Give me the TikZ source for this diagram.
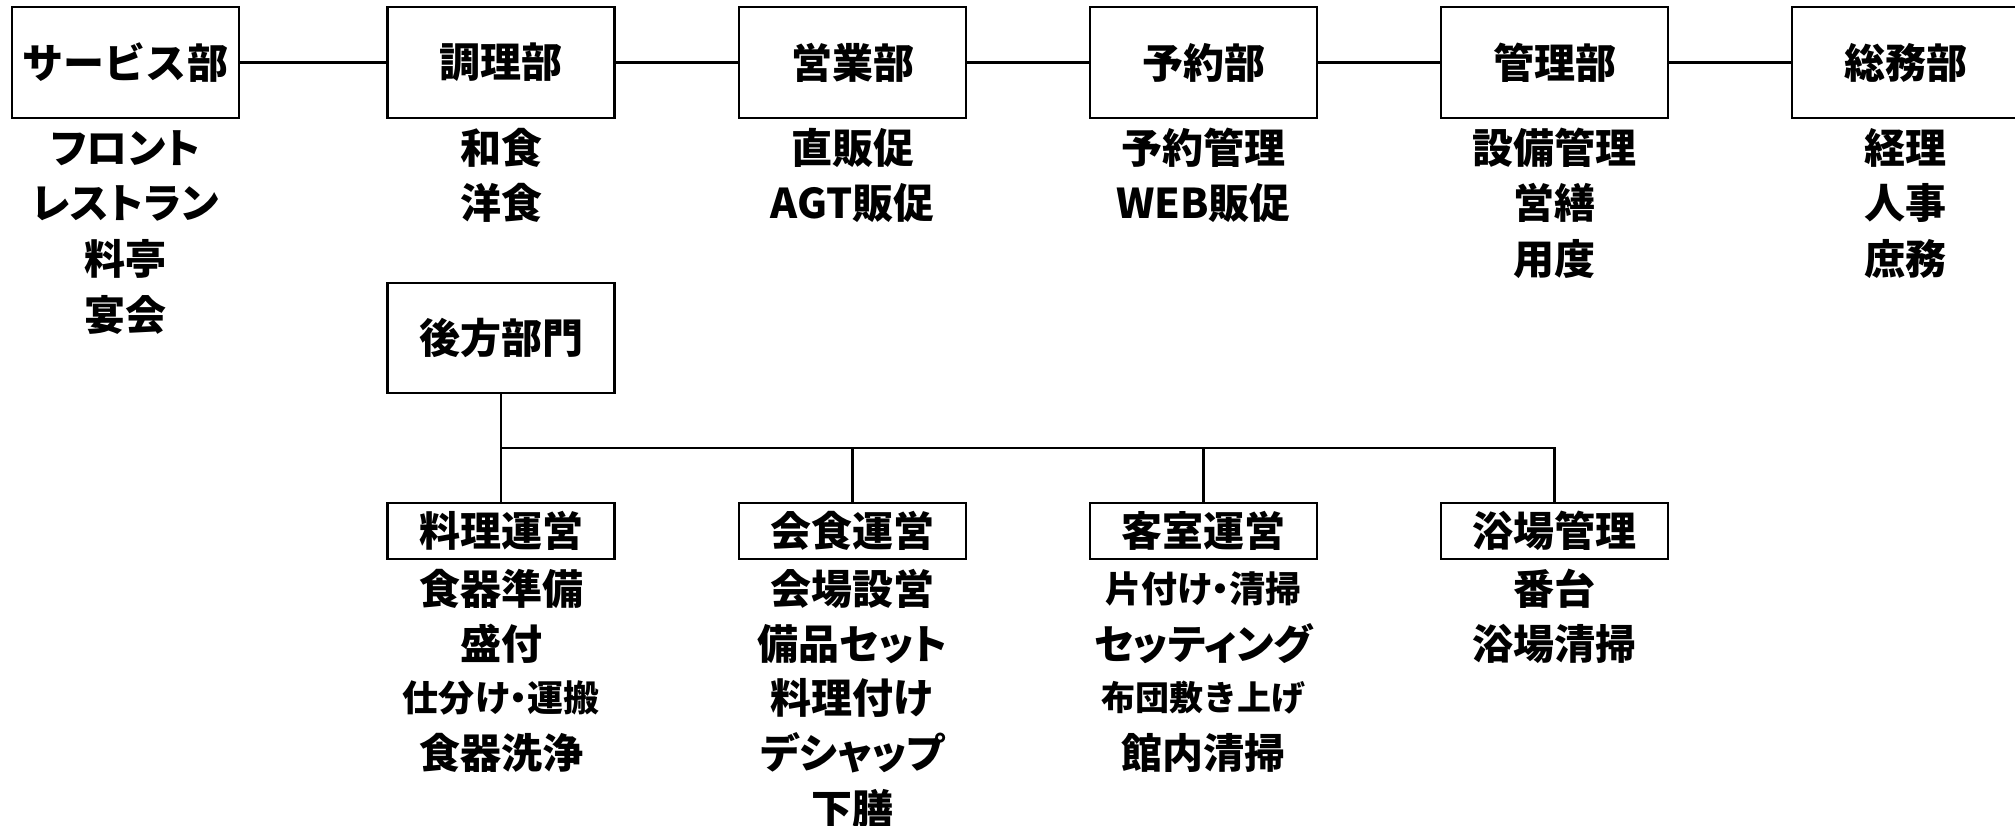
\documentclass[tikz,border=0pt]{standalone}
\usepackage{fontspec}
\setmainfont{Noto Sans CJK JP}
\newfontfamily\kana{Noto Sans CJK JP}[RawFeature=+palt]
\begin{document}
\begin{tikzpicture}[x=1pt,y=-1pt,
  lbl/.style={font=\fontsize{41}{41}\selectfont\bfseries, inner sep=0pt},
  kn/.style={font=\kana\fontsize{41}{41}\selectfont\bfseries, inner sep=0pt},
  sm/.style={font=\fontsize{34}{34}\selectfont\bfseries, inner sep=0pt},
  smk/.style={font=\kana\fontsize{36}{36}\selectfont\bfseries, inner sep=0pt},
  box/.style={lbl, draw, line width=2.6pt, minimum width=227pt},
  topbox/.style={box, minimum height=111pt},
  subbox/.style={box, minimum height=56pt},
  conn/.style={line width=2.4pt}]
\clip (0,0) rectangle (2015,826);
\fill[white] (0,0) rectangle (2015,826);
% top row
\node[topbox] (s1) at (125.5,62.5) {サービス部};
\node[topbox] (s2) at (501,62.5) {調理部};
\node[topbox] (s3) at (852.5,62.5) {営業部};
\node[topbox] (s4) at (1203.5,62.5) {予約部};
\node[topbox] (s5) at (1554.5,62.5) {管理部};
\node[topbox] (s6) at (1905.5,62.5) {総務部};
\draw[conn] (s1.east) -- (s2.west);
\draw[conn] (s2.east) -- (s3.west);
\draw[conn] (s3.east) -- (s4.west);
\draw[conn] (s4.east) -- (s5.west);
\draw[conn] (s5.east) -- (s6.west);
% items top
\node[kn]  (a1) at (125.5,148) {フロント};
\node[kn]  (a2) at (125.5,203) {レストラン};
\node[lbl] (a3) at (125.5,259) {料亭};
\node[lbl] (a4) at (125.5,315) {宴会};
\node[lbl] (b1) at (501,148) {和食};
\node[lbl] (b2) at (501,203) {洋食};
\node[lbl] (c1) at (852.5,148) {直販促};
\node[lbl] (c2) at (852.5,203) {AGT販促};
\node[lbl] (d1) at (1203.5,148) {予約管理};
\node[lbl] (d2) at (1203.5,203) {WEB販促};
\node[lbl] (e1) at (1554.5,148) {設備管理};
\node[lbl] (e2) at (1554.5,203) {営繕};
\node[lbl] (e3) at (1554.5,259) {用度};
\node[lbl] (f1) at (1905.5,148) {経理};
\node[lbl] (f2) at (1905.5,203) {人事};
\node[lbl] (f3) at (1905.5,259) {庶務};
% back office
\node[box, minimum height=110pt] (back) at (501,338) {後方部門};
\node[subbox] (u1) at (501,531) {料理運営};
\node[subbox] (u2) at (852.5,531) {会食運営};
\node[subbox] (u3) at (1203.5,531) {客室運営};
\node[subbox] (u4) at (1554.5,531) {浴場管理};
\coordinate (bus) at (501,448);
\draw[conn] (back.south) -- (u1.north);
\draw[conn] (bus) -| (u4.north);
\draw[conn] (u2.north |- bus) -- (u2.north);
\draw[conn] (u3.north |- bus) -- (u3.north);
% items bottom
\node[lbl] (g1) at (501,589) {食器準備};
\node[lbl] (g2) at (501,644) {盛付};
\node[smk] (g3) at (501,698) {仕分け・運搬};
\node[lbl] (g4) at (501,753) {食器洗浄};
\node[lbl] (h1) at (852.5,589) {会場設営};
\node[kn]  (h2) at (852.5,644) {備品セット};
\node[lbl] (h3) at (852.5,698) {料理付け};
\node[kn]  (h4) at (852.5,753) {デシャップ};
\node[lbl] (h5) at (852.5,809) {下膳};
\node[smk] (k1) at (1203.5,589) {片付け・清掃};
\node[kn]  (k2) at (1203.5,644) {セッティング};
\node[sm]  (k3) at (1203.5,698) {布団敷き上げ};
\node[lbl] (k4) at (1203.5,753) {館内清掃};
\node[lbl] (m1) at (1554.5,589) {番台};
\node[lbl] (m2) at (1554.5,644) {浴場清掃};
\end{tikzpicture}
\end{document}
